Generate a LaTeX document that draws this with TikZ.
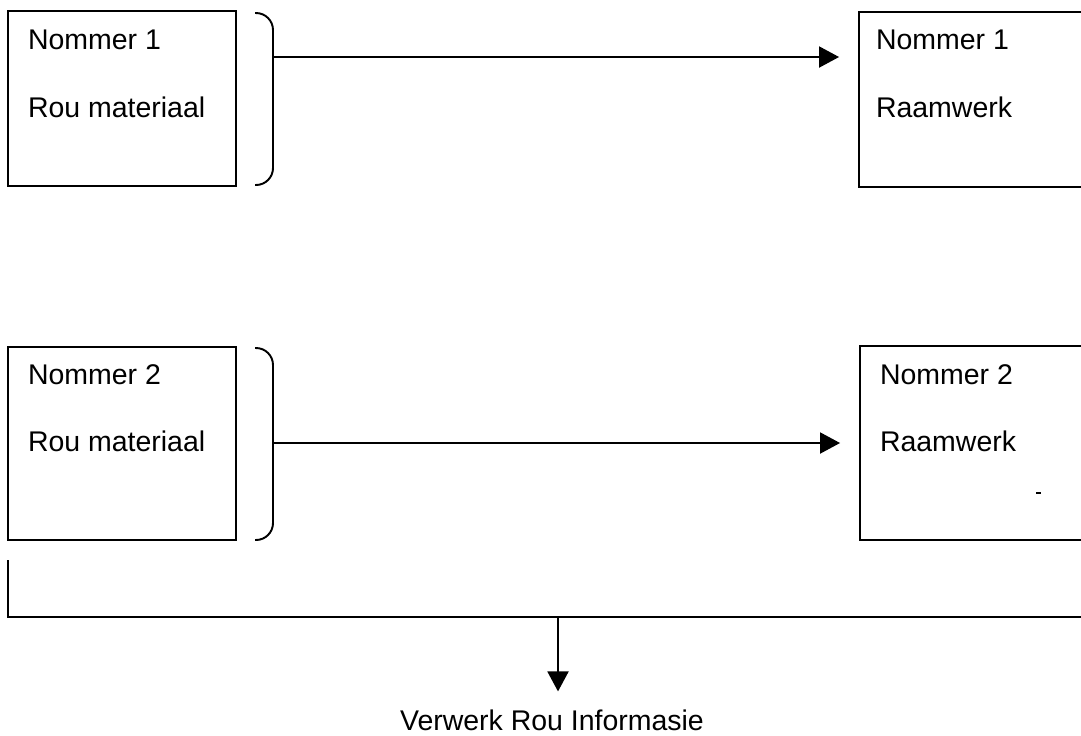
\documentclass[tikz,border=0pt]{standalone}
\usepackage{fontspec}
\setmainfont{Liberation Sans}
\usetikzlibrary{arrows.meta,calc}
\tikzstyle{line} = [draw, -{Triangle[length=0.4cm,width=0.42cm]}]
\tikzstyle{box} = [draw, inner sep=0, minimum width=4.56cm]
\tikzstyle{lbl} = [inner sep=0, anchor=base west, font=\fontsize{16.2}{19}\selectfont]
\tikzstyle{brace} = [draw, rounded corners=0.34cm]

\begin{document}
\begin{tikzpicture}[x=0.02cm, y=-0.02cm, line width=1.1pt]
    % Page frame
    \clip (0,0) rectangle (1081,735);
    % Raw material boxes
    \node[box, minimum height=3.5cm] (src1) at (122,98.5) {};
    \node[box, minimum height=3.86cm] (src2) at (122,443.5) {};
    \node[lbl] (src1a) at ([shift={(20,39)}]src1.north west) {Nommer 1};
    \node[lbl] (src1b) at ([shift={(20,107)}]src1.north west) {Rou materiaal};
    \node[lbl] (src2a) at ([shift={(20,38)}]src2.north west) {Nommer 2};
    \node[lbl] (src2b) at ([shift={(20,105)}]src2.north west) {Rou materiaal};
    % Framework boxes
    \node[box, minimum width=5.2cm, minimum height=3.5cm] (dst1) at (989,99.5) {};
    \node[box, minimum width=5.2cm, minimum height=3.88cm] (dst2) at (990,443) {};
    \node[lbl] (dst1a) at ([shift={(17,38)}]dst1.north west) {Nommer 1};
    \node[lbl] (dst1b) at ([shift={(17,106)}]dst1.north west) {Raamwerk};
    \node[lbl] (dst2a) at ([shift={(20,39)}]dst2.north west) {Nommer 2};
    \node[lbl] (dst2b) at ([shift={(20,106)}]dst2.north west) {Raamwerk};
    \draw[line width=0.8pt] (1036,493) -- (1041,493);
    % Brackets and arrows
    \draw[brace] (255,13) -- (273,13) -- (273,185) -- (255,185);
    \draw[brace] (255,348) -- (273,348) -- (273,540) -- (255,540);
    \coordinate (k1) at (273,57);
    \coordinate (k2) at (273,443);
    \draw[line, shorten >=0.38cm] (k1) -- (k1 -| dst1.west);
    \draw[line, shorten >=0.38cm] (k2) -- (k2 -| dst2.west);
    % Collector line
    \coordinate (c0) at (8,560);
    \coordinate (c1) at (8,617);
    \coordinate (j) at (558,617);
    \draw (c0) -- (c1) -- (c1 -| dst2.east);
    \node[lbl, anchor=base] (out) at (552,730) {Verwerk Rou Informasie};
    \draw[line, shorten >=0.34cm] (j) -- (j |- out.north);
\end{tikzpicture}
\end{document}
